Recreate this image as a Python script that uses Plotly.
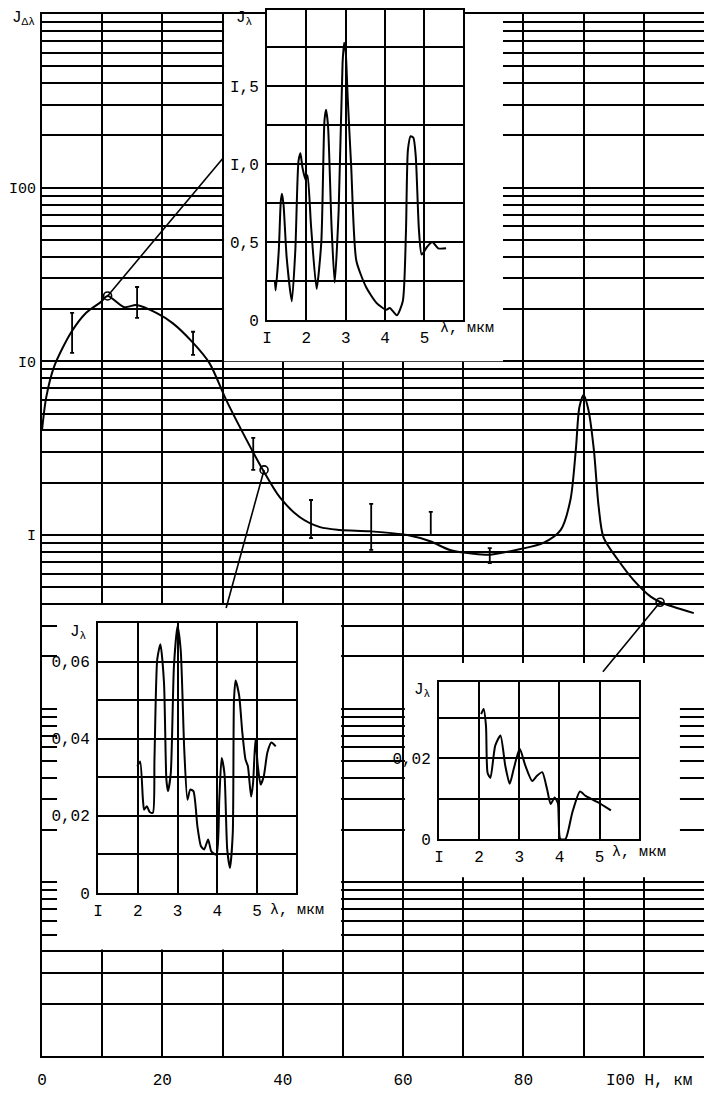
import plotly.graph_objects as go

# page body has an 8 px margin; figure sized to fit the 712x1099 window exactly
OFF = 8
W, H = 712 - OFF, 1099 - OFF
FONT = "Liberation Mono"

# ---------------- main chart data ----------------
H_km = [0, 0.7, 2.0, 4.8, 7.3, 9.8, 10.9, 13.7, 15.7, 19.0, 21.7, 25.0, 27.8, 30.6, 33.4,
        36.7, 39.5, 42.8, 46.2, 49.5, 54.5, 60.7, 64.5, 67.8, 71.7, 74.5, 79.5, 83.3, 86.2,
        87.8, 88.7, 89.3, 90.0, 90.8, 91.7, 92.5, 93.3, 95.7, 98.3, 101.2, 102.8, 105.0, 108.3]
J_dl = [4.0, 6.2, 9.3, 14.6, 19.0, 22.0, 23.8, 20.5, 21.1, 19.0, 16.6, 12.9, 9.8, 6.0, 3.86,
        2.37, 1.65, 1.27, 1.11, 1.07, 1.05, 1.0, 0.92, 0.82, 0.78, 0.77, 0.83, 0.90, 1.07,
        1.59, 3.09, 5.46, 6.4, 5.25, 3.09, 1.45, 0.97, 0.72, 0.55, 0.44, 0.41, 0.385, 0.355]

eb_H = [5.0, 15.8, 25.1, 35.1, 44.7, 54.7, 64.6, 74.4]
eb_lo = [11.2, 17.8, 10.9, 2.37, 0.96, 0.82, 1.0, 0.69]
eb_hi = [19.0, 26.8, 14.8, 3.62, 1.59, 1.51, 1.36, 0.84]

circ_H = [10.9, 36.9, 102.7]
circ_J = [23.8, 2.37, 0.41]
conn_end_H = [30.1, 30.6, 93.2]
conn_end_J = [148, 0.38, 0.163]

x_ticks = [0, 20, 40, 60, 80]
x_ticktext = ["0", "20", "40", "60", "80"]
y_ticks = [1, 10, 100]
y_ticktext = ["I", "I0", "I00"]

# ---------------- inset spectra ----------------
ins1_lam = [1.2, 1.22, 1.3, 1.35, 1.38, 1.42, 1.5, 1.63, 1.72, 1.8, 1.85, 1.9, 1.98, 2.03,
            2.12, 2.26, 2.38, 2.46, 2.5, 2.55, 2.64, 2.72, 2.82, 2.92, 2.96, 3.0, 3.05, 3.14,
            3.27, 3.52, 3.78, 4.03, 4.12, 4.3, 4.45, 4.53, 4.58, 4.65, 4.72, 4.78, 4.86, 4.93,
            5.07, 5.2, 5.35, 5.55]
ins1_J = [0.25, 0.19, 0.45, 0.76, 0.81, 0.74, 0.4, 0.12, 0.45, 1.02, 1.07, 0.98, 0.90, 0.93,
          0.6, 0.2, 0.5, 1.28, 1.35, 1.25, 0.6, 0.24, 0.7, 1.65, 1.78, 1.72, 1.43, 0.98,
          0.38, 0.21, 0.11, 0.065, 0.077, 0.03, 0.12, 0.56, 1.09, 1.18, 1.17, 1.05, 0.58, 0.42,
          0.47, 0.50, 0.46, 0.46]

ins2_lam = [1.99, 2.06, 2.13, 2.16, 2.23, 2.3, 2.38, 2.42, 2.49, 2.57, 2.66, 2.72, 2.76, 2.83,
            2.91, 3.0, 3.08, 3.17, 3.25, 3.32, 3.4, 3.5, 3.59, 3.67, 3.77, 3.85, 3.98, 4.05,
            4.11, 4.18, 4.25, 4.32, 4.39, 4.42, 4.46, 4.55, 4.63, 4.71, 4.77, 4.85, 4.9, 4.96,
            5.02, 5.09, 5.17, 5.26, 5.36, 5.47]
ins2_J = [0.0328, 0.0341, 0.0242, 0.0216, 0.0225, 0.021, 0.0208, 0.0346, 0.0606, 0.0645,
          0.0545, 0.0294, 0.0264, 0.031, 0.0588, 0.0692, 0.063, 0.037, 0.0242, 0.0268, 0.0264,
          0.0173, 0.0121, 0.0113, 0.0139, 0.0108, 0.0099, 0.0242, 0.035, 0.031, 0.0113, 0.0065,
          0.0156, 0.05, 0.0551, 0.0512, 0.0416, 0.0346, 0.0329, 0.025, 0.0285, 0.0398, 0.0329,
          0.0281, 0.0303, 0.0364, 0.039, 0.038]

ins3_lam = [2.05, 2.11, 2.17, 2.21, 2.28, 2.4, 2.53, 2.65, 2.76, 2.86, 3.01, 3.15, 3.32, 3.44,
            3.57, 3.69, 3.78, 3.88, 3.96, 4.02, 4.15, 4.32, 4.51, 4.65, 4.94, 5.28]
ins3_J = [0.031, 0.0323, 0.0281, 0.0164, 0.0152, 0.0232, 0.0257, 0.0182, 0.0137, 0.0174,
          0.0224, 0.0182, 0.0144, 0.0157, 0.0166, 0.0124, 0.0087, 0.0103, 0.0089, 0.0,
          0.0, 0.0066, 0.0118, 0.0107, 0.0092, 0.0071]

lam_ticks = [1, 2, 3, 4, 5]
lam_ticktext = ["I", "2", "3", "4", "5"]


# ---------------- helpers (layout geometry in screen pixels) ----------------
def px(x):
    return (x - OFF) / W


def py(y):
    return 1 - (y - OFF) / H


fig = go.Figure()

# white areas covering the main grid behind the insets (main data coords)
white_boxes = [
    ((30.25, 76.6), (10, 1000)),
    ((2.5, 49.7), (0.0041, 0.395)),
    ((60.3, 106.0), (0.0107, 0.183)),
]
for (x0, x1), (y0, y1) in white_boxes:
    fig.add_trace(go.Scatter(x=[x0, x1, x1, x0, x0], y=[y0, y0, y1, y1, y0], mode="lines",
                             fill="toself", fillcolor="white", line=dict(width=0),
                             hoverinfo="skip", showlegend=False))

# connector lines
for hx, hy, ex, ey in zip(circ_H, circ_J, conn_end_H, conn_end_J):
    fig.add_trace(go.Scatter(x=[hx, ex], y=[hy, ey], mode="lines",
                             line=dict(color="black", width=1.6), hoverinfo="skip",
                             showlegend=False))

# main curve
fig.add_trace(go.Scatter(x=H_km, y=J_dl, mode="lines",
                         line=dict(color="black", width=2, shape="spline", smoothing=0.8),
                         showlegend=False))

# error bars
fig.add_trace(go.Scatter(x=eb_H, y=eb_lo, mode="markers", marker=dict(size=0.1, color="black"),
                         error_y=dict(type="data", symmetric=False,
                                      array=[h - l for h, l in zip(eb_hi, eb_lo)],
                                      arrayminus=[0] * len(eb_lo), color="black",
                                      thickness=1.8, width=2),
                         showlegend=False))

# circles
fig.add_trace(go.Scatter(x=circ_H, y=circ_J, mode="markers",
                         marker=dict(symbol="circle-open", size=8, color="black",
                                     line=dict(width=1.6)),
                         showlegend=False))

# inset curves
for lam, jj, ax in [(ins1_lam, ins1_J, "2"), (ins2_lam, ins2_J, "3"), (ins3_lam, ins3_J, "4")]:
    fig.add_trace(go.Scatter(x=lam, y=jj, mode="lines", xaxis="x" + ax, yaxis="y" + ax,
                             line=dict(color="black", width=2, shape="spline", smoothing=0.6),
                             showlegend=False))

# main-axis minor grid (log paper)
y_minor = []
for e in range(-3, 3):
    for m in range(1, 10):
        v = round(m * 10 ** e, 6)
        if v not in y_ticks:
            y_minor.append(v)
y_minor.append(1000)
x_minor = [v for v in range(0, 111, 10) if v not in x_ticks]

tick_font = dict(family=FONT, size=16, color="black")
common = dict(showgrid=True, gridcolor="black", gridwidth=1.5, zeroline=False,
              showline=True, mirror=True, linecolor="black", linewidth=2,
              ticks="", automargin=False, fixedrange=True)


def minor(vals):
    return dict(tickmode="array", tickvals=vals, showgrid=True, gridcolor="black",
                gridwidth=1.5, ticks="")


layout = dict(
    width=W, height=H, margin=dict(l=0, r=0, t=0, b=0), autosize=False,
    paper_bgcolor="white", plot_bgcolor="white", showlegend=False,
    xaxis=dict(domain=[px(42), px(704)], range=[0, 110], tickvals=x_ticks,
               ticktext=x_ticktext, anchor="y", ticklabelstandoff=8, tickfont=tick_font,
               minor=minor(x_minor), **common),
    yaxis=dict(domain=[py(1056), py(14)], range=[-3, 3], type="log", tickvals=y_ticks,
               ticktext=y_ticktext, anchor="x", ticklabelstandoff=1,
               tickfont=dict(family=FONT, size=15, color="black"),
               minor=minor(y_minor), **common),
)

insets = [
    ("2", (267, 463), (10, 320), [0, 1.99], [0, 0.5, 1.0, 1.5], ["0", "0,5", "I,0", "I,5"],
     [0.25, 0.75, 1.25, 1.75]),
    ("3", (98, 296), (623, 893), [0, 0.07], [0, 0.02, 0.04, 0.06],
     ["0", "0,02", "0,04", "0,06"], [0.01, 0.03, 0.05]),
    ("4", (439, 639), (682, 839), [0, 0.039], [0, 0.02], ["0", "0,02"], [0.01, 0.03]),
]
for ax, (x0, x1), (y0, y1), yr, ytv, ytt, ymin in insets:
    layout["xaxis" + ax] = dict(domain=[px(x0), px(x1)], range=[1, 5.98], anchor="y" + ax,
                                tickvals=lam_ticks, ticktext=lam_ticktext, tickfont=tick_font,
                                ticklabelstandoff=2, **common)
    layout["yaxis" + ax] = dict(domain=[py(y1), py(y0)], range=yr, anchor="x" + ax,
                                tickvals=ytv, ticktext=ytt, ticklabelstandoff=3,
                                tickfont=tick_font, minor=minor(ymin), **common)

fig.update_layout(**layout)


def ann(text, x, y, xanchor="left", size=16):
    fig.add_annotation(text=text, x=px(x), y=py(y), xref="paper", yref="paper",
                       showarrow=False, xanchor=xanchor, yanchor="middle",
                       font=dict(family=FONT, size=size, color="black"))


ann("J<sub>Δλ</sub>", 10, 18)
ann("J<sub>λ</sub>", 234, 18)
ann("J<sub>λ</sub>", 68, 632)
ann("J<sub>λ</sub>", 412, 690)
ann("λ, мкм", 438, 328, size=15)
ann("λ, мкм", 268, 910, size=15)
ann("λ, мкм", 610, 852, size=15)
ann("I00 H, км", 604, 1081, size=16)

fig.write_html("out.html")
